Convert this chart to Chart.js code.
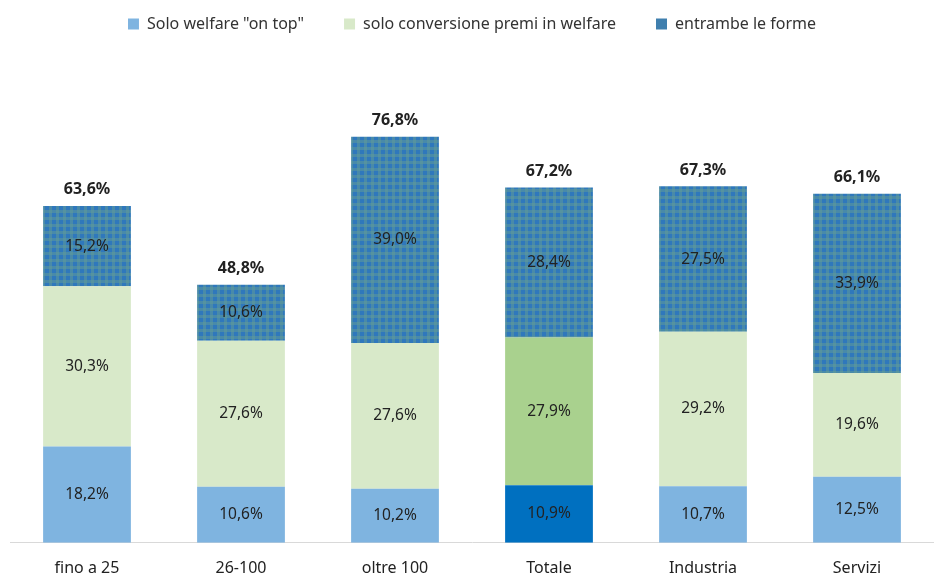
<!DOCTYPE html>
<html>
<head>
<meta charset="utf-8">
<script src="https://cdn.jsdelivr.net/npm/chart.js@4/dist/chart.umd.min.js"></script>
<style>
  html, body { margin: 0; padding: 0; background: #fff; }
  #wrap { width: 934px; height: 577px; }
</style>
</head>
<body>
<div id="wrap"><canvas id="chart"></canvas></div>
<script>
const categories = ['fino a 25', '26-100', 'oltre 100', 'Totale', 'Industria', 'Servizi'];
const soloOnTop = [18.2, 10.6, 10.2, 10.9, 10.7, 12.5];
const soloConversione = [30.3, 27.6, 27.6, 27.9, 29.2, 19.6];
const entrambe = [15.2, 10.6, 39.0, 28.4, 27.5, 33.9];
const totali = [63.6, 48.8, 76.8, 67.2, 67.3, 66.1];

const FONT = '"Noto Sans", sans-serif';
const fmt = v => v.toFixed(1).replace('.', ',') + '%';

// gingham-like fill for the top segment
function checkPattern() {
    const c = document.createElement('canvas');
    c.width = 7; c.height = 7;
    const g = c.getContext('2d');
    g.fillStyle = '#2f78bc';
    g.fillRect(0, 0, 7, 7);
    g.fillStyle = 'rgba(100,155,150,0.5)';
    g.fillRect(0, 0, 3, 7);
    g.fillRect(0, 0, 7, 3);
    return g.createPattern(c, 'repeat');
}
const pat = checkPattern();

// the Totale bar uses stronger colours
const colorsFor = (normal, strong) => categories.map(c => c === 'Totale' ? strong : normal);

const segmentLabels = {
    id: 'segmentLabels',
    afterDatasetsDraw(chart) {
        const ctx = chart.ctx;
        ctx.save();
        ctx.textAlign = 'center';
        ctx.textBaseline = 'middle';
        ctx.fillStyle = '#222';
        ctx.font = '15.5px ' + FONT;
        chart.data.datasets.forEach((ds, di) => {
            chart.getDatasetMeta(di).data.forEach((bar, i) => {
                const mid = (bar.y + bar.base) / 2;
                ctx.fillText(fmt(ds.data[i]), bar.x, mid);
            });
        });
        const top = chart.getDatasetMeta(2).data;
        ctx.font = 'bold 16px ' + FONT;
        top.forEach((bar, i) => {
            ctx.fillText(fmt(totali[i]), bar.x, bar.y - 16);
        });
        ctx.restore();
    }
};

new Chart(document.getElementById('chart'), {
    type: 'bar',
    data: {
        labels: categories,
        datasets: [
            {label: 'Solo welfare "on top"', data: soloOnTop,
             backgroundColor: colorsFor('#7fb4e0', '#0070c0')},
            {label: 'solo conversione premi in welfare', data: soloConversione,
             backgroundColor: colorsFor('#d8e9c9', '#a9d18e')},
            {label: 'entrambe le forme', data: entrambe, backgroundColor: pat}
        ]
    },
    options: {
        responsive: true,
        maintainAspectRatio: false,
        animation: false,
        layout: {padding: {left: 10, right: 0, top: -24, bottom: -17}},
        datasets: {bar: {barPercentage: 1, categoryPercentage: 0.57}},
        plugins: {
            tooltip: {enabled: false},
            legend: {
                position: 'top',
                labels: {
                    boxWidth: 11, boxHeight: 11, padding: 40,
                    color: '#333',
                    font: {family: FONT, size: 16},
                    generateLabels(chart) {
                        const fills = ['#7fb4e0', '#d8e9c9', '#3f7fae'];
                        return chart.data.datasets.map((ds, i) => ({
                            text: ds.label, fillStyle: fills[i], strokeStyle: fills[i],
                            lineWidth: 0, datasetIndex: i, fontColor: '#333'
                        }));
                    }
                }
            }
        },
        scales: {
            x: {
                stacked: true,
                grid: {display: false, drawTicks: false},
                border: {color: '#d9d9d9', width: 1},
                ticks: {color: '#222', font: {family: FONT, size: 16}, padding: 16}
            },
            y: {
                stacked: true,
                display: false,
                min: 0,
                max: 94.7
            }
        }
    },
    plugins: [segmentLabels]
});
</script>
</body>
</html>
